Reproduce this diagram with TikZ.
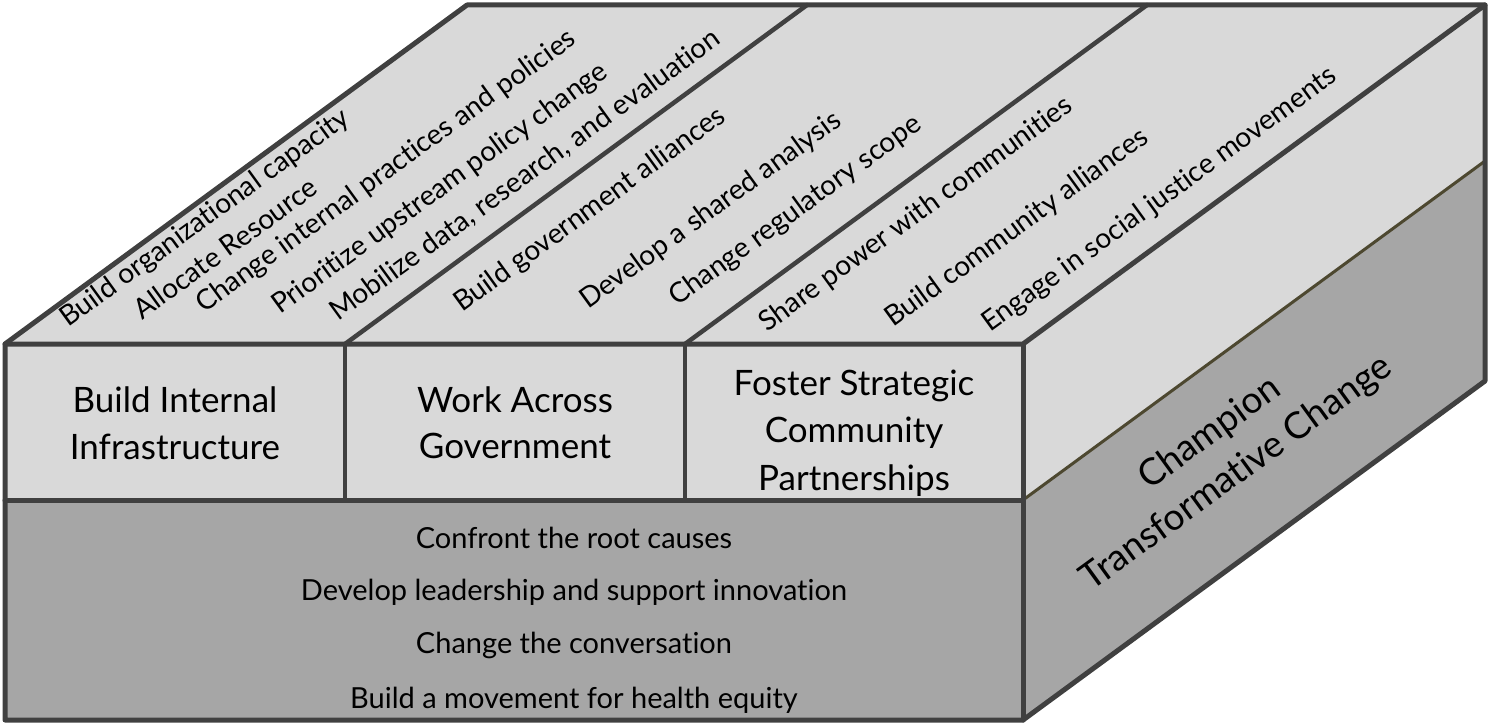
\documentclass[tikz,border=0pt]{standalone}
\usepackage{fontspec}
\setmainfont{Lato}[Ligatures={NoCommon,NoRare,NoDiscretionary}]
\definecolor{lightface}{HTML}{D9D9D9}
\definecolor{darkface}{HTML}{A6A6A6}
\definecolor{edgecol}{HTML}{404040}
\definecolor{olivecol}{HTML}{4D4830}
\tikzset{
  edgeline/.style={draw=edgecol, line width=5pt, line join=round, line cap=round},
  divline/.style={draw=edgecol, line width=4.5pt, line cap=round},
  seamline/.style={draw=olivecol, line width=3pt},
  frontlabel/.style={anchor=base, inner sep=0pt, font=\fontsize{35}{42}\selectfont},
  bottomlabel/.style={anchor=base, inner sep=0pt, font=\fontsize{29}{35}\selectfont},
  diaglabel/.style={anchor=base west, inner sep=0pt, rotate=36, font=\fontsize{28}{34}\selectfont},
  sidelabel/.style={anchor=base, inner sep=0pt, rotate=36, font=\fontsize{37}{44}\selectfont}
}
\begin{document}
\begin{tikzpicture}[x=1pt,y=-1pt]
\useasboundingbox (0,0) rectangle (1490,725);
% corners
\coordinate (FTL) at (5,344);
\coordinate (FT1) at (345,344);
\coordinate (FT2) at (685,344);
\coordinate (FTR) at (1023,344);
\coordinate (FML) at (5,500);
\coordinate (FM1) at (345,500);
\coordinate (FM2) at (685,500);
\coordinate (FMR) at (1023,500);
\coordinate (FBL) at (5,720);
\coordinate (FBR) at (1023,720);
\coordinate (BTL) at (467,5);
\coordinate (BT1) at (807,5);
\coordinate (BT2) at (1147,5);
\coordinate (BTR) at (1485,5);
\coordinate (BMR) at (1485,161);
\coordinate (BBR) at (1485,381);
% faces
\fill[lightface] (FTL)--(BTL)--(BTR)--(FTR)--cycle;
\fill[lightface] (FTR)--(BTR)--(BMR)--(FMR)--cycle;
\fill[darkface] (FMR)--(BMR)--(BBR)--(FBR)--cycle;
\fill[lightface] (FTL) rectangle (FMR);
\fill[darkface] (FML) rectangle (FBR);
% edges
\draw[seamline] (FMR)--(BMR);
\draw[divline] (FT1)--(BT1);
\draw[divline] (FT2)--(BT2);
\draw[divline] (FT1)--(FM1);
\draw[divline] (FT2)--(FM2);
\draw[edgeline] (FML)--(FMR);
\draw[edgeline] (FTL)--(FTR)--(BTR);
\draw[edgeline] (FTR)--(FBR);
\draw[edgeline] (FTL)--(BTL)--(BTR)--(BBR)--(FBR)--(FBL)--cycle;
% top face texts
\node[diaglabel] (t1) at (68,328) {Build organizational capacity};
\node[diaglabel] (t2) at (142,321) {Allocate Resource};
\node[diaglabel] (t3) at (204,314) {Change internal practices and policies};
\node[diaglabel] (t4) at (280,315) {Prioritize upstream policy change};
\node[diaglabel] (t5) at (338,322) {Mobilize data, research, and evaluation};
\node[diaglabel] (t6) at (462,313) {Build government alliances};
\node[diaglabel] (t7) at (588,310) {Develop a shared analysis};
\node[diaglabel] (t8) at (677,307) {Change regulatory scope};
\node[diaglabel] (t9) at (767,333) {Share power with communities};
\node[diaglabel] (t10) at (893,328) {Build community alliances};
\node[diaglabel] (t11) at (990,333) {Engage in social justice movements};
% front labels
\node[frontlabel] (f1a) at (175,412) {Build Internal};
\node[frontlabel] (f1b) at (175,459) {Infrastructure};
\node[frontlabel] (f2a) at (515,412) {Work Across};
\node[frontlabel] (f2b) at (515,458) {Government};
\node[frontlabel] (f3a) at (854,395) {Foster Strategic};
\node[frontlabel] (f3b) at (854,442) {Community};
\node[frontlabel] (f3c) at (854,490) {Partnerships};
% bottom texts
\node[bottomlabel] (b1) at (574,548) {Confront the root causes};
\node[bottomlabel] (b2) at (574,600) {Develop leadership and support innovation};
\node[bottomlabel] (b3) at (574,653) {Change the conversation};
\node[bottomlabel] (b4) at (574,708) {Build a movement for health equity};
% side texts
\node[sidelabel] (s1) at (1216,442) {Champion};
\node[sidelabel] (s2) at (1243,482) {Transformative Change};
\end{tikzpicture}
\end{document}
